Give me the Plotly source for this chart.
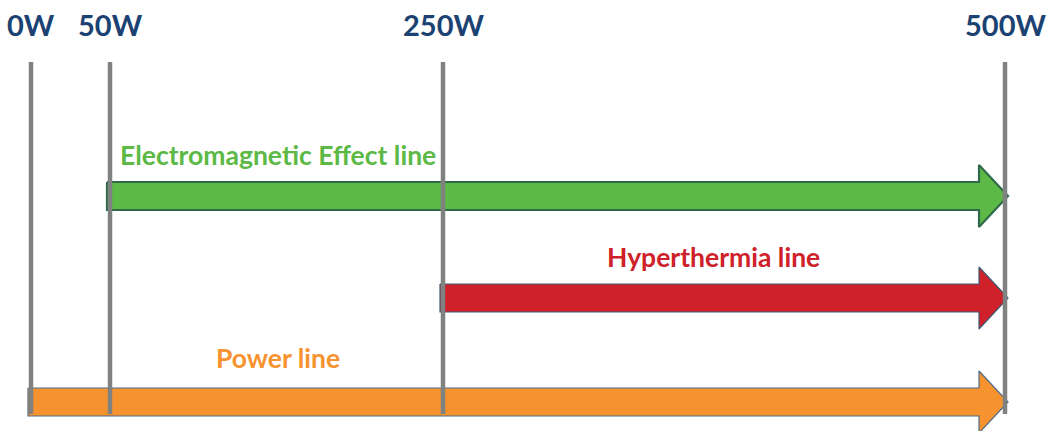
import numpy as np
import plotly.graph_objects as go

# ---- data ----
tick_labels = ["0W", "50W", "250W", "500W"]
tick_watts = [0, 50, 250, 500]
line_names = ["Electromagnetic Effect line", "Hyperthermia line", "Power line"]
line_start_w = [50, 250, 0]
line_end_w = [500, 500, 500]

# ---- layout / style ----
W, H = 1048, 431
tick_px = [31, 110, 443, 1005]          # where each wattage marker sits on the canvas
row_y = [196, 298, 402]                 # arrow centre lines
label_xy = [(278, 155), (713, 257), (278, 358)]
fill_cols = ["#5cb946", "#cf2129", "#f7932e"]
edge_cols = ["#2f6a48", "#3f5b78", "#4d6b8a"]
edge_w = [2.2, 1.2, 1.2]
text_cols = ["#5cb946", "#cf2129", "#f7932e"]
grey = "#7f8281"
navy = "#1b4272"
body_half, head_half, head_len, tip_over = 14, 31, 29, 3
line_top, line_bot = 62, 414


def wx(w):
    return float(np.interp(w, tick_watts, tick_px))


fig = go.Figure()

for name, s, e, y, fc, ec, ew in zip(line_names, line_start_w, line_end_w, row_y,
                                     fill_cols, edge_cols, edge_w):
    x0 = wx(s) - 3
    tip = wx(e) + tip_over
    xb = tip - head_len
    xs = [x0, xb, xb, tip, xb, xb, x0, x0]
    ys = [y - body_half, y - body_half, y - head_half, y, y + head_half,
          y + body_half, y + body_half, y - body_half]
    fig.add_trace(go.Scatter(x=xs, y=ys, mode="lines", fill="toself",
                             fillcolor=fc, line=dict(color=ec, width=ew),
                             hoverinfo="skip", showlegend=False, name=name))

for w in tick_watts:
    fig.add_trace(go.Scatter(x=[wx(w), wx(w)], y=[line_top, line_bot], mode="lines",
                             line=dict(color=grey, width=4.5),
                             hoverinfo="skip", showlegend=False))

for lab, w in zip(tick_labels, tick_watts):
    fig.add_annotation(x=wx(w), y=24, text=f"<b>{lab}</b>", showarrow=False,
                       xanchor="center", yanchor="middle",
                       font=dict(family="Lato", size=29, color=navy))

for name, (lx, ly), tc in zip(line_names, label_xy, text_cols):
    fig.add_annotation(x=lx, y=ly, text=f"<b>{name}</b>", showarrow=False,
                       xanchor="center", yanchor="middle",
                       font=dict(family="Lato", size=26.5, color=tc))

fig.update_layout(
    width=W, height=H, margin=dict(l=0, r=0, t=0, b=0),
    paper_bgcolor="white", plot_bgcolor="white",
    xaxis=dict(range=[0, W], visible=False, fixedrange=True),
    yaxis=dict(range=[H, 0], visible=False, fixedrange=True),
    showlegend=False,
)

fig.write_html("out.html", config={"displayModeBar": False},
               post_script="document.body.style.margin='0';document.body.style.overflow='hidden';")
